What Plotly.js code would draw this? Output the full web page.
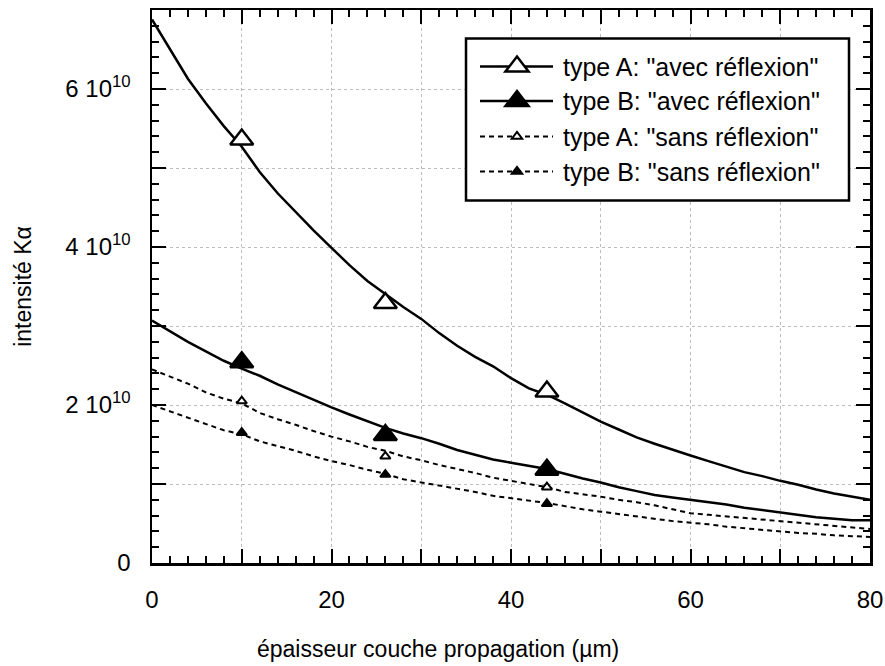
<!DOCTYPE html>
<html><head><meta charset="utf-8">
<script src="https://cdn.plot.ly/plotly-3.0.1.min.js"></script>
<style>html,body{margin:0;padding:0;background:#fff}#chart{width:885px;height:666px}</style>
</head><body><div id="chart"></div>
<script>
// ---------- data ----------
const thickness = [0,2,4,6,8,10,12,14,16,18,20,22,24,26,28,30,32,34,36,38,40,42,44,46,48,50,52,54,56,58,60,62,64,66,68,70,72,74,76,78,80];
const typeA_avec = [6.88e10,6.50e10,6.13e10,5.82e10,5.53e10,5.27e10,4.95e10,4.68e10,4.44e10,4.21e10,3.99e10,3.77e10,3.57e10,3.40e10,3.24e10,3.09e10,2.91e10,2.75e10,2.61e10,2.49e10,2.34e10,2.21e10,2.13e10,2.02e10,1.90e10,1.79e10,1.69e10,1.59e10,1.51e10,1.43e10,1.36e10,1.29e10,1.22e10,1.15e10,1.10e10,1.04e10,0.99e10,0.93e10,0.88e10,0.84e10,0.80e10];
const typeB_avec = [3.07e10,2.93e10,2.80e10,2.68e10,2.56e10,2.46e10,2.37e10,2.26e10,2.16e10,2.07e10,1.97e10,1.88e10,1.79e10,1.71e10,1.64e10,1.58e10,1.51e10,1.43e10,1.37e10,1.31e10,1.27e10,1.23e10,1.19e10,1.13e10,1.07e10,1.02e10,0.96e10,0.91e10,0.86e10,0.83e10,0.80e10,0.77e10,0.74e10,0.70e10,0.67e10,0.64e10,0.61e10,0.58e10,0.56e10,0.54e10,0.54e10];
const typeA_sans = [2.45e10,2.36e10,2.27e10,2.16e10,2.08e10,2.02e10,1.90e10,1.82e10,1.75e10,1.67e10,1.60e10,1.54e10,1.47e10,1.42e10,1.35e10,1.30e10,1.24e10,1.19e10,1.14e10,1.08e10,1.04e10,1.00e10,0.96e10,0.90e10,0.87e10,0.84e10,0.80e10,0.77e10,0.73e10,0.68e10,0.63e10,0.61e10,0.59e10,0.57e10,0.55e10,0.53e10,0.51e10,0.49e10,0.47e10,0.45e10,0.43e10];
const typeB_sans = [2.00e10,1.92e10,1.84e10,1.76e10,1.68e10,1.63e10,1.54e10,1.48e10,1.42e10,1.35e10,1.29e10,1.24e10,1.18e10,1.13e10,1.06e10,1.02e10,0.98e10,0.94e10,0.90e10,0.85e10,0.82e10,0.79e10,0.76e10,0.72e10,0.68e10,0.65e10,0.62e10,0.59e10,0.56e10,0.53e10,0.51e10,0.49e10,0.46e10,0.44e10,0.42e10,0.40e10,0.38e10,0.37e10,0.35e10,0.34e10,0.33e10];

const markerX = [10, 26, 44];
const typeA_avec_pts = [5.36e10, 3.29e10, 2.17e10];
const typeB_avec_pts = [2.54e10, 1.62e10, 1.18e10];
const typeA_sans_pts = [2.05e10, 1.35e10, 0.96e10];
const typeB_sans_pts = [1.65e10, 1.12e10, 0.75e10];

const seriesNames = ['type A: "avec réflexion"', 'type B: "avec réflexion"', 'type A: "sans réflexion"', 'type B: "sans réflexion"'];

const xTickVals = [0,10,20,30,40,50,60,70,80];
const xTickText = ['0','','20','','40','','60','','80'];
const yTickVals = [0,1e10,2e10,3e10,4e10,5e10,6e10,7e10];
const yTickText = ['0','','2 10<sup>10</sup>','','4 10<sup>10</sup>','','6 10<sup>10</sup>',''];
const xTitle = 'épaisseur couche propagation (µm)';
const yTitle = 'intensité Kα';

// ---------- styles ----------
const FONT = 'Liberation Sans, Arial, Helvetica, sans-serif';
const styles = [
  {dash:'solid', lw:2.5, fill:'white', size:20, mlw:2.5},
  {dash:'solid', lw:2.5, fill:'black', size:20, mlw:2.5},
  {dash:'5px,4px', lw:2, fill:'white', size:9, mlw:2},
  {dash:'5px,4px', lw:2, fill:'black', size:9, mlw:2}
];
const lineData = [typeA_avec, typeB_avec, typeA_sans, typeB_sans];
const ptData = [typeA_avec_pts, typeB_avec_pts, typeA_sans_pts, typeB_sans_pts];

const traces = [];
lineData.forEach((ys, i) => {
  traces.push({x: thickness, y: ys, mode:'lines', name: seriesNames[i], showlegend:false,
    line:{color:'black', width:styles[i].lw, dash:styles[i].dash}, hoverinfo:'skip'});
});
ptData.forEach((ys, i) => {
  traces.push({x: markerX, y: ys, mode:'markers', name: seriesNames[i], showlegend:false,
    marker:{symbol:'triangle-up', size:styles[i].size, color:styles[i].fill,
      line:{color:'black', width:styles[i].mlw}}, cliponaxis:false});
});

// ---------- layout ----------
const W = 885, H = 666;
const M = {l:152, r:15, t:10, b:103};
const PW = W - M.l - M.r, PH = H - M.t - M.b;
const px = v => (v - M.l) / PW;
const py = v => (H - M.b - v) / PH;

const shapes = [{type:'rect', xref:'paper', yref:'paper', x0:px(466), x1:px(849), y0:py(200.5), y1:py(38.5),
  line:{color:'black', width:2.5}, fillcolor:'white', layer:'above'}];
const annotations = [];
const rowsY = [66.5, 101, 136.5, 171.5];
seriesNames.forEach((nm, i) => {
  const yy = py(rowsY[i]);
  shapes.push({type:'line', xref:'paper', yref:'paper', x0:px(480), x1:px(553), y0:yy, y1:yy,
    line:{color:'black', width:styles[i].lw, dash:styles[i].dash}, layer:'above'});
  const r = styles[i].size/2, rt = r*2/Math.sqrt(3);
  shapes.push({type:'path', xref:'paper', yref:'paper', xsizemode:'pixel', ysizemode:'pixel',
    xanchor:px(517), yanchor:yy,
    path:`M${-rt},${-r/2} L${rt},${-r/2} L0,${r} Z`,
    fillcolor:styles[i].fill, line:{color:'black', width:styles[i].mlw}, layer:'above'});
  annotations.push({xref:'paper', yref:'paper', x:px(561), y:yy, xanchor:'left', yanchor:'middle',
    text:nm, showarrow:false, font:{family:FONT, size:25, color:'black'}});
});
// x-axis title (centred on the figure, as in the reference)
annotations.push({xref:'paper', yref:'paper', x:px(438), y:py(649), xanchor:'center', yanchor:'middle',
  text:xTitle, showarrow:false, font:{family:FONT, size:23, color:'black'}});

const axisCommon = {
  ticks:'inside', ticklen:14, tickwidth:2, tickcolor:'black',
  showline:true, linewidth:2.5, linecolor:'black', mirror:'ticks',
  showgrid:true, gridcolor:'#bdbdbd', gridwidth:1, griddash:'dot',
  zeroline:false, tickfont:{family:FONT, size:24, color:'black'},
  tickmode:'array'
};

const layout = {
  width:W, height:H, margin:M,
  paper_bgcolor:'white', plot_bgcolor:'white',
  font:{family:FONT, color:'black'},
  showlegend:false,
  xaxis: Object.assign({}, axisCommon, {
    range:[0,80], tickvals:xTickVals, ticktext:xTickText, ticklabelstandoff:14,
    minor:{tickmode:'linear', tick0:0, dtick:2, ticks:'inside', ticklen:7, tickwidth:2, tickcolor:'black', showgrid:false}
  }),
  yaxis: Object.assign({}, axisCommon, {
    range:[0,7e10], tickvals:yTickVals, ticktext:yTickText, ticklabelstandoff:14,
    minor:{tickmode:'linear', tick0:0, dtick:2e9, ticks:'inside', ticklen:7, tickwidth:2, tickcolor:'black', showgrid:false},
    title:{text:yTitle, font:{family:FONT, size:23, color:'black'}, standoff:28}
  }),
  shapes: shapes,
  annotations: annotations
};

Plotly.newPlot('chart', traces, layout, {staticPlot:true});
</script>
</body></html>
